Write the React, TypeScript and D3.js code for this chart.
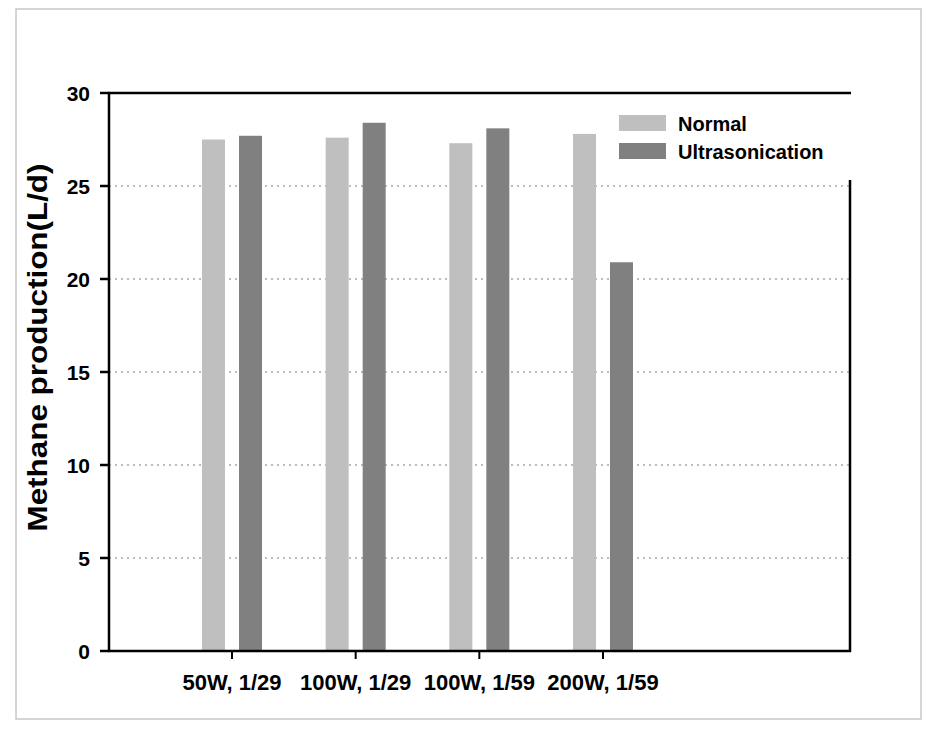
import React from "react";
import * as d3 from "d3";

const categories = ["50W, 1/29", "100W, 1/29", "100W, 1/59", "200W, 1/59"];
const normalValues = [27.5, 27.6, 27.3, 27.8];
const ultraValues = [27.7, 28.4, 28.1, 20.9];
const yTicks = [0, 5, 10, 15, 20, 25, 30];
const seriesNames = ["Normal", "Ultrasonication"];
const seriesColors = ["#bfbfbf", "#808080"];

const W = 947;
const H = 735;
const plot = { left: 109, right: 850, top: 93, bottom: 651 };
const font = "'Liberation Sans', Arial, sans-serif";

export default function App() {
  const y = d3.scaleLinear().domain([0, 30]).range([plot.bottom, plot.top]);
  const x = d3.scalePoint<string>().domain(categories).range([232, 603]);
  const barW = 23;
  const offset = 18.5;
  const series = [normalValues, ultraValues];

  return (
    <svg width={W} height={H} style={{ position: "absolute", left: 0, top: 0, background: "#fff" }}>
      <rect x={16} y={9} width={905} height={710} fill="#fff" stroke="#c8c8c8" strokeWidth={1.5} />
      {/* grid */}
      {yTicks.filter(t => t > 0 && t < 30).map(t => (
        <line key={t} x1={plot.left} x2={plot.right} y1={y(t)} y2={y(t)} stroke="#a6a6a6" strokeWidth={1.5} strokeDasharray="2,4" />
      ))}
      {/* bars */}
      {series.map((vals, si) =>
        vals.map((v, i) => {
          const cx = (x(categories[i]) as number) + (si === 0 ? -offset : offset);
          return (
            <rect key={si + "-" + i} x={cx - barW / 2} y={y(v)} width={barW} height={y(0) - y(v)} fill={seriesColors[si]} />
          );
        })
      )}
      {/* axes frame */}
      <line x1={plot.left} x2={plot.left} y1={plot.top - 1} y2={plot.bottom + 1} stroke="#000" strokeWidth={2.5} />
      <line x1={plot.left - 1} x2={plot.right + 1} y1={plot.bottom} y2={plot.bottom} stroke="#000" strokeWidth={2.5} />
      <line x1={plot.left - 1} x2={plot.right + 1} y1={plot.top} y2={plot.top} stroke="#000" strokeWidth={2.5} />
      <line x1={plot.right} x2={plot.right} y1={180} y2={plot.bottom + 1} stroke="#000" strokeWidth={2.5} />
      {/* y ticks */}
      {yTicks.map(t => (
        <g key={t}>
          <line x1={plot.left - 9} x2={plot.left} y1={y(t)} y2={y(t)} stroke="#000" strokeWidth={2.5} />
          <text x={90} y={y(t)} dy="0.36em" textAnchor="end" fontFamily={font} fontWeight="bold" fontSize={21} fill="#000">{t}</text>
        </g>
      ))}
      {/* x ticks */}
      {categories.map(c => (
        <g key={c}>
          <line x1={x(c)} x2={x(c)} y1={plot.bottom} y2={plot.bottom + 8} stroke="#000" strokeWidth={2} />
          <text x={x(c)} y={690} textAnchor="middle" fontFamily={font} fontWeight="bold" fontSize={22} fill="#000">{c}</text>
        </g>
      ))}
      {/* y title */}
      <text transform={`translate(47,347.5) rotate(-90)`} textAnchor="middle" fontFamily={font} fontWeight="bold" fontSize={27} textLength={368} lengthAdjust="spacingAndGlyphs" fill="#000">Methane production(L/d)</text>
      {/* legend */}
      {seriesNames.map((n, i) => (
        <g key={n} transform={`translate(619,${115 + i * 28})`}>
          <rect x={0} y={0} width={47} height={16} fill={seriesColors[i]} />
          <text x={59} y={16} fontFamily={font} fontWeight="bold" fontSize={20} fill="#000">{n}</text>
        </g>
      ))}
    </svg>
  );
}
